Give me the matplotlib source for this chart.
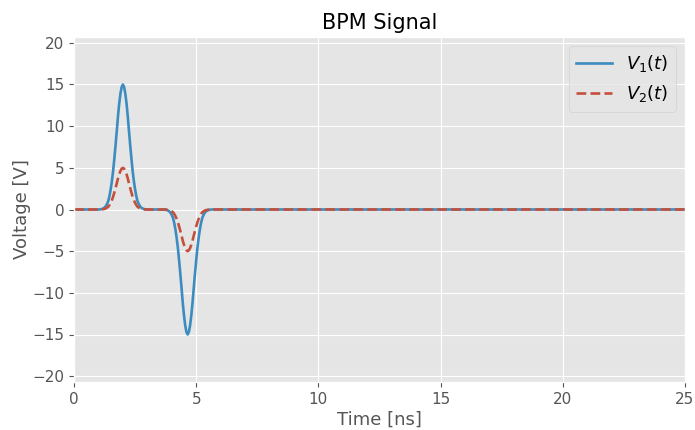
import matplotlib
matplotlib.use("Agg")
import matplotlib.pyplot as plt
import numpy as np

plt.style.use("ggplot")

# Read-off samples: half-profile of the pulses (offset from pulse centre, value)
half_offsets = [0.0, 0.05, 0.1, 0.15, 0.2, 0.25, 0.3, 0.35, 0.4, 0.45, 0.5,
                0.55, 0.6, 0.65, 0.7, 0.75, 0.8, 0.85, 0.9, 0.95, 1.0]
v1_half = [15.0, 14.7, 13.9, 12.7, 11.2, 9.4, 7.7, 6.1, 4.6, 3.4, 2.4,
           1.6, 1.0, 0.66, 0.4, 0.23, 0.13, 0.07, 0.03, 0.01, 0.0]
v2_half = [5.0, 4.9, 4.63, 4.23, 3.73, 3.13, 2.57, 2.03, 1.53, 1.13, 0.8,
           0.53, 0.33, 0.22, 0.13, 0.08, 0.04, 0.02, 0.01, 0.0, 0.0]
pulse_centres = [2.0, 4.65]
pulse_signs = [1, -1]
t_start, t_end = 0.0, 25.0

offsets = [-o for o in half_offsets[::-1]] + half_offsets[1:]
v1_prof = v1_half[::-1] + v1_half[1:]
v2_prof = v2_half[::-1] + v2_half[1:]

t = [t_start]
v1 = [0.0]
v2 = [0.0]
for c, s in zip(pulse_centres, pulse_signs):
    for o, a, b in zip(offsets, v1_prof, v2_prof):
        tt = round(c + o, 3)
        if tt <= t[-1]:
            continue
        t.append(tt)
        v1.append(s * a)
        v2.append(s * b)
t.append(t_end)
v1.append(0.0)
v2.append(0.0)

fig = plt.figure(figsize=(6.95, 4.30), dpi=100)
ax = fig.add_axes([74 / 695, 1 - 382 / 430, (685 - 74) / 695, (382 - 37) / 430])
ax.plot(t, v1, color="#3C8CC0", lw=1.9, label=r"$V_1(t)$")
ax.plot(t, v2, color="#C4503C", lw=1.9, ls="--", label=r"$V_2(t)$")
ax.set_xlim(0, 25)
ax.set_ylim(-20.7, 20.7)
ax.set_yticks([-20, -15, -10, -5, 0, 5, 10, 15, 20])
ax.set_xticks([0, 5, 10, 15, 20, 25])
ax.tick_params(labelsize=11, colors="#555555")
ax.set_title("BPM Signal", fontsize=15, color="black")
ax.set_xlabel("Time [ns]", fontsize=13, color="#555555", labelpad=3)
ax.set_ylabel("Voltage [V]", fontsize=13, color="#555555", labelpad=1)
ax.legend(loc="upper right", fontsize=13)
fig.savefig("out.png", dpi=100)
